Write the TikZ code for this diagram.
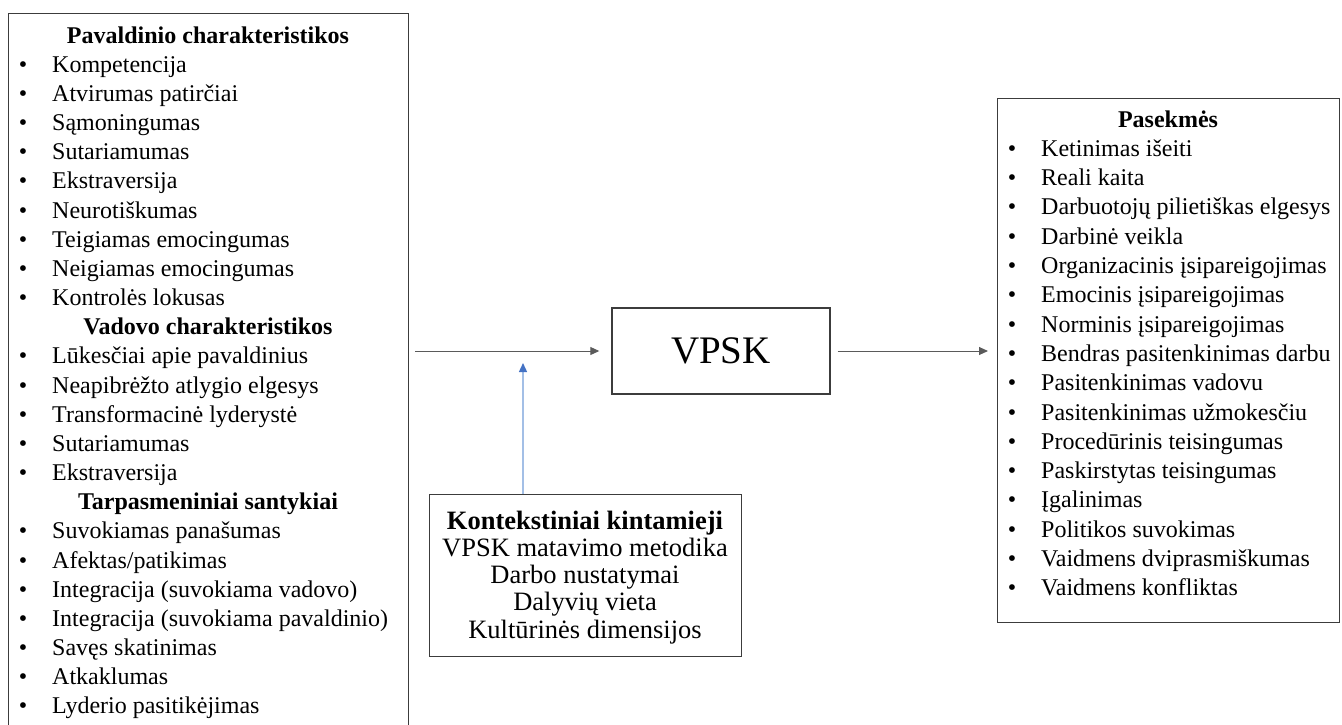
\documentclass[tikz,border=0pt]{standalone}
\usepackage{fontspec}
\setmainfont{Liberation Serif}
\usetikzlibrary{arrows.meta}
\definecolor{boxgray}{HTML}{3C3C3C}
\definecolor{arrgray}{HTML}{5A5A5A}
\definecolor{lightblue}{HTML}{A3BFE6}
\definecolor{tipblue}{HTML}{4472C4}
\begin{document}
\begin{tikzpicture}[x=1pt,y=-1pt,
  frame/.style={draw=boxgray,line width=1.4pt,inner sep=0pt,anchor=north west},
  txt/.style={inner sep=0pt,font=\fontsize{24}{28}\selectfont},
  itm/.style={txt,anchor=base west},
  bul/.style={txt,anchor=base},
  hdr/.style={txt,anchor=base,font=\fontsize{24}{28}\selectfont\bfseries},
  khdr/.style={txt,anchor=base,font=\fontsize{26.5}{28}\selectfont\bfseries},
  ctr/.style={txt,anchor=base,font=\fontsize{26.5}{28}\selectfont},
  arr/.style={draw=arrgray,line width=1pt,-{Triangle[length=9pt,width=8pt]}},
  barr/.style={draw=lightblue,line width=1.4pt,-{Triangle[length=9pt,width=8pt,color=tipblue,fill=tipblue]}}]
\path[use as bounding box] (0,0) rectangle (1342,724);
\clip (0,0) rectangle (1342,724);
% ---------------- left box
\node[frame,minimum width=400pt,minimum height=740pt] (L) at (8,13) {};
\node[hdr] (lh1) at (208,43) {Pavaldinio charakteristikos};
\foreach \t [count=\i] in {Kompetencija,Atvirumas patirčiai,Sąmoningumas,Sutariamumas,Ekstraversija,Neurotiškumas,Teigiamas emocingumas,Neigiamas emocingumas,Kontrolės lokusas}{
  \node[bul] (lb\i) at (23,43+29.17*\i) {•};
  \node[itm] (li\i) at (52,43+29.17*\i) {\t};
}
\node[hdr] (lh2) at (208,43+29.17*10) {Vadovo charakteristikos};
\foreach \t [count=\i from 11] in {Lūkesčiai apie pavaldinius,Neapibrėžto atlygio elgesys,Transformacinė lyderystė,Sutariamumas,Ekstraversija}{
  \node[bul] (lb\i) at (23,43+29.17*\i) {•};
  \node[itm] (li\i) at (52,43+29.17*\i) {\t};
}
\node[hdr] (lh3) at (208,43+29.17*16) {Tarpasmeniniai santykiai};
\foreach \t [count=\i from 17] in {Suvokiamas panašumas,Afektas/patikimas,Integracija (suvokiama vadovo),Integracija (suvokiama pavaldinio),Savęs skatinimas,Atkaklumas,Lyderio pasitikėjimas}{
  \node[bul] (lb\i) at (23,43+29.17*\i) {•};
  \node[itm] (li\i) at (52,43+29.17*\i) {\t};
}
% ---------------- VPSK
\node[draw=boxgray,line width=1.4pt,minimum width=218pt,minimum height=86pt,inner sep=0pt,font=\fontsize{39}{44}\selectfont] (V) at (721,351) {VPSK};
% ---------------- right box
\node[frame,minimum width=342pt,minimum height=524pt] (R) at (997,98) {};
\node[hdr] (rh) at (1168,127) {Pasekmės};
\foreach \t [count=\i] in {Ketinimas išeiti,Reali kaita,Darbuotojų pilietiškas elgesys,Darbinė veikla,Organizacinis įsipareigojimas,Emocinis įsipareigojimas,Norminis įsipareigojimas,Bendras pasitenkinimas darbu,Pasitenkinimas vadovu,Pasitenkinimas užmokesčiu,Procedūrinis teisingumas,Paskirstytas teisingumas,Įgalinimas,Politikos suvokimas,Vaidmens dviprasmiškumas,Vaidmens konfliktas}{
  \node[bul] (rb\i) at (1012,127+29.3*\i) {•};
  \node[itm] (ri\i) at (1041,127+29.3*\i) {\t};
}
% ---------------- context box
\node[frame,minimum width=312pt,minimum height=162pt] (K) at (429,494) {};
\node[khdr] (kh) at (585,529) {Kontekstiniai kintamieji};
\foreach \t [count=\i] in {VPSK matavimo metodika,Darbo nustatymai,Dalyvių vieta,Kultūrinės dimensijos}{
  \node[ctr] (k\i) at (585,529+27.3*\i) {\t};
}
% ---------------- connectors
\coordinate (la) at (415,351);
\draw[arr,shorten >=12pt] (la) -- (V.west);
\draw[arr,shorten <=7pt,shorten >=9pt] (V.east) -- (V.east -| R.west);
\coordinate (bt) at (523,363);
\draw[barr] (bt |- K.north) -- (bt);
\end{tikzpicture}
\end{document}
